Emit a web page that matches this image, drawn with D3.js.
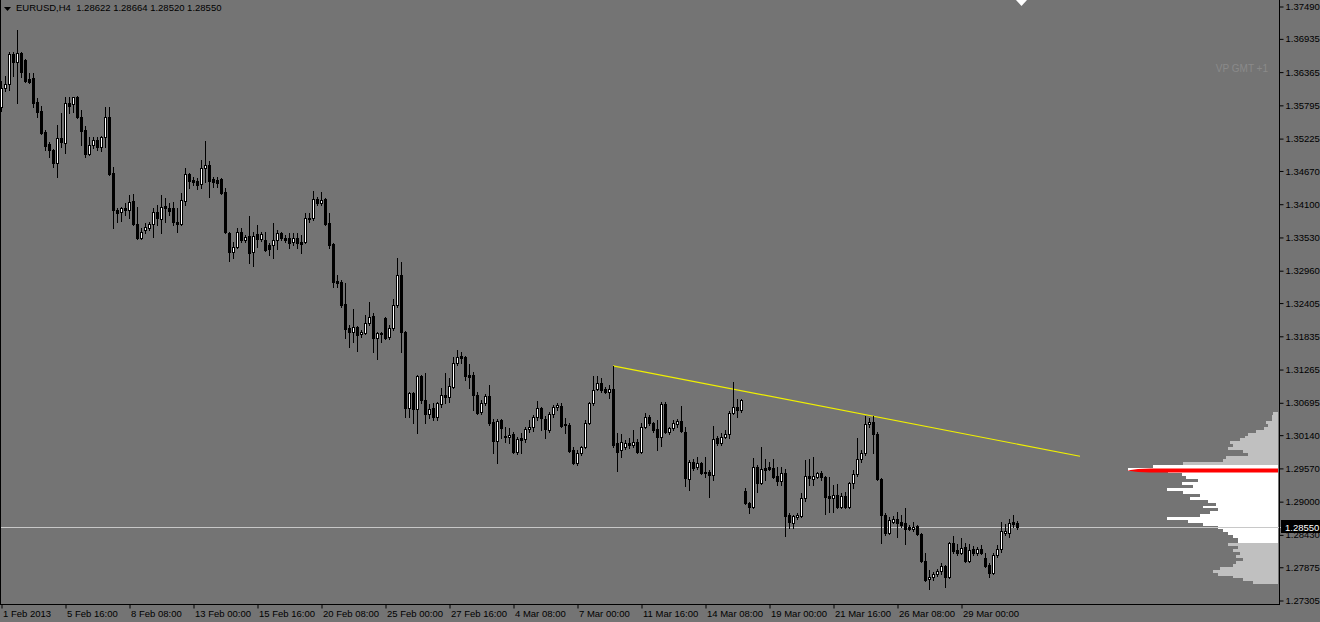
<!DOCTYPE html>
<html><head><meta charset="utf-8">
<script src="https://cdn.jsdelivr.net/npm/d3@7"></script>
<style>
html,body{margin:0;padding:0;background:#747474;overflow:hidden}
svg{display:block}
text{font-family:"Liberation Sans",Arial,sans-serif;font-size:9.5px}
</style>
</head><body>
<svg id="c" width="1320" height="622"></svg>
<script>
// ---- Data: EURUSD H4 candles (bar index 0 = 1 Feb 2013 00:00) ----
const openP = [1.3576,1.3608,1.3615,1.3667,1.3653,1.3668,1.3656,1.3624,1.3626,1.3584,1.3569,1.3533,1.3512,1.3502,1.3480,1.3523,1.3514,1.3583,1.3581,1.3593,
1.3559,1.3536,1.3495,1.3511,1.3519,1.3507,1.3524,1.3559,1.3463,1.3399,1.3396,1.3403,1.3399,1.3415,1.3375,1.3351,1.3365,1.3368,1.3375,1.3396,
1.3384,1.3406,1.3403,1.3403,1.3379,1.3375,1.3415,1.3461,1.3451,1.3449,1.3444,1.3471,1.3476,1.3452,1.3451,1.3452,1.3430,1.3360,1.3327,1.3336,
1.3362,1.3348,1.3355,1.3327,1.3358,1.3350,1.3348,1.3339,1.3339,1.3348,1.3360,1.3351,1.3351,1.3344,1.3351,1.3344,1.3344,1.3386,1.3386,1.3418,
1.3411,1.3418,1.3377,1.3341,1.3277,1.3276,1.3238,1.3197,1.3190,1.3199,1.3187,1.3188,1.3206,1.3218,1.3180,1.3188,1.3214,1.3182,1.3197,1.3236,
1.3288,1.3190,1.3060,1.3086,1.3058,1.3115,1.3074,1.3049,1.3060,1.3044,1.3067,1.3082,1.3079,1.3096,1.3137,1.3149,1.3147,1.3116,1.3116,1.3082,
1.3053,1.3068,1.3080,1.3036,1.3003,1.3039,1.3012,1.3010,1.3015,1.2984,1.3008,1.3007,1.3024,1.3027,1.3044,1.3060,1.3041,1.3022,1.3049,1.3062,
1.3063,1.3032,1.3031,1.2988,1.2966,1.2983,1.2993,1.3034,1.3068,1.3092,1.3103,1.3092,1.3087,1.3092,1.3000,1.2988,1.2993,1.3000,1.2996,1.3002,
1.2984,1.3027,1.3044,1.3034,1.3024,1.3010,1.3067,1.3019,1.3026,1.3032,1.3038,1.3019,1.2938,1.2967,1.2959,1.2966,1.2950,1.2950,1.2945,1.3008,
1.3000,1.3010,1.3015,1.3051,1.3062,1.3056,1.2917,1.2897,1.2890,1.2959,1.2931,1.2957,1.2959,1.2957,1.2943,1.2935,1.2948,1.2876,1.2863,1.2873,
1.2875,1.2905,1.2943,1.2938,1.2941,1.2948,1.2941,1.2909,1.2905,1.2911,1.2890,1.2909,1.2890,1.2931,1.2947,1.2972,1.2983,1.3032,1.3036,1.3015,
1.2938,1.2876,1.2846,1.2864,1.2870,1.2864,1.2863,1.2856,1.2852,1.2857,1.2844,1.2797,1.2767,1.2770,1.2775,1.2780,1.2789,1.2770,1.2828,1.2816,
1.2811,1.2821,1.2797,1.2818,1.2811,1.2818,1.2803,1.2791,1.2777,1.2808,1.2818,1.2846,1.2846,1.2864,1.28622];
const highP = [1.3620,1.3629,1.3670,1.3670,1.3708,1.3670,1.3658,1.3634,1.3634,1.3591,1.3578,1.3536,1.3516,1.3504,1.3545,1.3566,1.3593,1.3593,1.3593,1.3595,
1.3571,1.3543,1.3524,1.3524,1.3524,1.3526,1.3576,1.3576,1.3473,1.3403,1.3404,1.3411,1.3425,1.3427,1.3404,1.3368,1.3377,1.3379,1.3403,1.3408,
1.3425,1.3420,1.3411,1.3413,1.3403,1.3428,1.3471,1.3463,1.3456,1.3454,1.3485,1.3518,1.3483,1.3456,1.3456,1.3454,1.3437,1.3362,1.3344,1.3368,
1.3368,1.3356,1.3389,1.3362,1.3374,1.3362,1.3362,1.3343,1.3377,1.3365,1.3362,1.3356,1.3360,1.3360,1.3360,1.3356,1.3394,1.3394,1.3432,1.3422,
1.3430,1.3420,1.3394,1.3343,1.3288,1.3279,1.3274,1.3202,1.3230,1.3200,1.3194,1.3219,1.3242,1.3223,1.3190,1.3190,1.3216,1.3202,1.3247,1.3317,
1.3310,1.3192,1.3087,1.3087,1.3116,1.3116,1.3120,1.3067,1.3068,1.3070,1.3094,1.3120,1.3111,1.3147,1.3159,1.3156,1.3149,1.3135,1.3122,1.3087,
1.3074,1.3084,1.3099,1.3041,1.3041,1.3041,1.3027,1.3026,1.3019,1.3010,1.3017,1.3027,1.3039,1.3048,1.3072,1.3062,1.3046,1.3053,1.3065,1.3068,
1.3068,1.3043,1.3034,1.2993,1.2988,1.2995,1.3039,1.3070,1.3115,1.3115,1.3111,1.3096,1.3099,1.3132,1.3017,1.3015,1.3005,1.3008,1.3022,1.3007,
1.3034,1.3051,1.3048,1.3036,1.3039,1.3070,1.3070,1.3027,1.3039,1.3041,1.3063,1.3027,1.2971,1.2972,1.2976,1.2967,1.2976,1.2953,1.3029,1.3012,
1.3017,1.3022,1.3055,1.3104,1.3075,1.3075,1.2923,1.2899,1.2974,1.2962,1.2993,1.2972,1.2967,1.2972,1.2959,1.2959,1.2955,1.2880,1.2876,1.2880,
1.2914,1.2971,1.2972,1.2976,1.2950,1.2952,1.2943,1.2941,1.2928,1.2929,1.2914,1.2916,1.2933,1.2953,1.3008,1.2988,1.3046,1.3043,1.3046,1.3019,
1.2940,1.2880,1.2873,1.2875,1.2882,1.2876,1.2888,1.2859,1.2864,1.2859,1.2846,1.2811,1.2782,1.2779,1.2784,1.2794,1.2791,1.2830,1.2840,1.2827,
1.2837,1.2828,1.2827,1.2823,1.2821,1.2825,1.2811,1.2794,1.2811,1.2825,1.2864,1.2861,1.2870,1.2876,1.28664];
const lowP = [1.3569,1.3603,1.3605,1.3629,1.3583,1.3627,1.3619,1.3617,1.3576,1.3559,1.3530,1.3502,1.3490,1.3473,1.3456,1.3507,1.3497,1.3566,1.3567,1.3557,
1.3511,1.3490,1.3494,1.3506,1.3502,1.3500,1.3507,1.3459,1.3368,1.3379,1.3380,1.3391,1.3386,1.3374,1.3350,1.3350,1.3360,1.3365,1.3353,1.3374,
1.3360,1.3379,1.3391,1.3374,1.3362,1.3374,1.3408,1.3437,1.3442,1.3435,1.3437,1.3447,1.3422,1.3439,1.3439,1.3427,1.3360,1.3312,1.3317,1.3334,
1.3344,1.3344,1.3308,1.3303,1.3336,1.3346,1.3329,1.3322,1.3317,1.3332,1.3348,1.3344,1.3334,1.3339,1.3334,1.3326,1.3343,1.3379,1.3382,1.3408,
1.3408,1.3374,1.3334,1.3267,1.3267,1.3233,1.3180,1.3164,1.3173,1.3158,1.3182,1.3187,1.3202,1.3156,1.3144,1.3173,1.3178,1.3178,1.3194,1.3233,
1.3156,1.3044,1.3044,1.3034,1.3017,1.3068,1.3034,1.3043,1.3039,1.3039,1.3062,1.3068,1.3070,1.3094,1.3133,1.3137,1.3108,1.3094,1.3056,1.3049,
1.3049,1.3065,1.3031,1.2983,1.2966,1.3008,1.3002,1.3000,1.2983,1.2981,1.2983,1.3002,1.3019,1.3020,1.3039,1.3022,1.3008,1.3019,1.3044,1.3056,
1.3027,1.3017,1.2984,1.2964,1.2962,1.2979,1.2991,1.3032,1.3065,1.3091,1.3087,1.3086,1.3077,1.2993,1.2952,1.2976,1.2990,1.2991,1.2993,1.2983,
1.2983,1.3026,1.3031,1.3019,1.2988,1.2995,1.3017,1.3015,1.3022,1.3027,1.3019,1.2926,1.2919,1.2953,1.2955,1.2947,1.2941,1.2907,1.2936,1.2996,
1.2996,1.3008,1.3008,1.3049,1.3044,1.3053,1.2895,1.2880,1.2888,1.2916,1.2929,1.2936,1.2953,1.2940,1.2928,1.2928,1.2840,1.2854,1.2854,1.2870,
1.2873,1.2900,1.2928,1.2928,1.2940,1.2936,1.2878,1.2882,1.2882,1.2888,1.2888,1.2888,1.2888,1.2923,1.2943,1.2967,1.2979,1.3027,1.2983,1.2936,
1.2828,1.2842,1.2844,1.2863,1.2839,1.2856,1.2827,1.2851,1.2849,1.2842,1.2796,1.2763,1.2749,1.2765,1.2772,1.2775,1.2753,1.2768,1.2811,1.2808,
1.2809,1.2796,1.2796,1.2808,1.2808,1.2809,1.2787,1.2770,1.2775,1.2804,1.2813,1.2842,1.2839,1.2856,1.28520];
const closeP = [1.3608,1.3615,1.3667,1.3653,1.3668,1.3636,1.3620,1.3619,1.3583,1.3567,1.3531,1.3509,1.3502,1.3480,1.3523,1.3516,1.3583,1.3578,1.3593,1.3559,
1.3535,1.3495,1.3511,1.3519,1.3507,1.3524,1.3559,1.3461,1.3399,1.3394,1.3403,1.3399,1.3413,1.3375,1.3351,1.3362,1.3370,1.3375,1.3396,1.3386,
1.3404,1.3403,1.3398,1.3379,1.3375,1.3416,1.3461,1.3449,1.3447,1.3442,1.3471,1.3476,1.3449,1.3447,1.3446,1.3428,1.3362,1.3327,1.3336,1.3362,
1.3348,1.3353,1.3326,1.3355,1.3350,1.3358,1.3331,1.3332,1.3348,1.3360,1.3351,1.3348,1.3343,1.3351,1.3343,1.3341,1.3386,1.3384,1.3418,1.3411,
1.3416,1.3375,1.3339,1.3276,1.3274,1.3236,1.3195,1.3190,1.3199,1.3185,1.3190,1.3206,1.3216,1.3180,1.3188,1.3187,1.3180,1.3197,1.3236,1.3288,
1.3190,1.3060,1.3086,1.3058,1.3115,1.3074,1.3049,1.3058,1.3044,1.3068,1.3082,1.3079,1.3098,1.3137,1.3147,1.3146,1.3115,1.3113,1.3082,1.3051,
1.3068,1.3080,1.3034,1.3003,1.3038,1.3026,1.3010,1.3013,1.2984,1.3007,1.3005,1.3024,1.3027,1.3044,1.3060,1.3043,1.3024,1.3049,1.3062,1.3065,
1.3029,1.3031,1.2986,1.2966,1.2983,1.2993,1.3034,1.3068,1.3091,1.3103,1.3091,1.3087,1.3092,1.2996,1.2984,1.3002,1.3000,1.2996,1.3002,1.2984,
1.3027,1.3044,1.3034,1.3022,1.3010,1.3067,1.3019,1.3026,1.3034,1.3038,1.3020,1.2940,1.2967,1.2957,1.2966,1.2948,1.2948,1.2945,1.3007,1.3000,
1.3010,1.3015,1.3051,1.3062,1.3056,1.3074,1.2897,1.2890,1.2959,1.2931,1.2955,1.2953,1.2955,1.2941,1.2935,1.2948,1.2875,1.2864,1.2875,1.2876,
1.2905,1.2943,1.2940,1.2943,1.2948,1.2941,1.2907,1.2905,1.2911,1.2890,1.2909,1.2890,1.2931,1.2947,1.2972,1.2983,1.3032,1.3036,1.3015,1.2938,
1.2876,1.2846,1.2868,1.2870,1.2863,1.2859,1.2852,1.2852,1.2856,1.2844,1.2797,1.2765,1.2770,1.2775,1.2780,1.2789,1.2770,1.2828,1.2815,1.2811,
1.2820,1.2797,1.2816,1.2811,1.2818,1.2811,1.2789,1.2777,1.2808,1.2818,1.2849,1.2849,1.2863,1.2861,1.28550];

// price axis tick labels
const priceTicks = [1.37490,1.36935,1.36365,1.35795,1.35225,1.34670,1.34100,1.33530,1.32960,1.32405,1.31835,1.31265,1.30695,1.30140,1.29570,1.29000,1.28430,1.27875,1.27305];
// time axis labels (every 16 bars)
const timeTickBars = [0,16,32,48,64,80,96,112,128,144,160,176,192,208,224,240];
const timeLabels = ["1 Feb 2013","5 Feb 16:00","8 Feb 08:00","13 Feb 00:00","15 Feb 16:00","20 Feb 08:00","25 Feb 00:00","27 Feb 16:00","4 Mar 08:00","7 Mar 00:00","11 Mar 16:00","14 Mar 08:00","19 Mar 00:00","21 Mar 16:00","26 Mar 08:00","29 Mar 00:00"];

// trend line (bar index, price)
const trendBars = [153, 269.75];
const trendPrices = [1.3132, 1.2977];
const bidPrice = 1.28550;
const titleText = "EURUSD,H4  1.28622 1.28664 1.28520 1.28550";

// volume profile (row centre prices, step 0.0005) and volumes
const profilePrices = [1.3050,1.3045,1.3040,1.3035,1.3030,1.3025,1.3020,1.3015,1.3010,1.3005,1.3000,1.2995,1.2990,1.2985,1.2980,1.2975,1.2970,1.2965,1.2960,1.2955,
1.2950,1.2945,1.2940,1.2935,1.2930,1.2925,1.2920,1.2915,1.2910,1.2905,1.2900,1.2895,1.2890,1.2885,1.2880,1.2875,1.2870,1.2865,1.2860,1.2855,
1.2850,1.2845,1.2840,1.2835,1.2830,1.2825,1.2820,1.2815,1.2810,1.2805,1.2800,1.2795,1.2790,1.2785,1.2780,1.2775,1.2770,1.2765,1.2760];
const profileVolumes = [5,6,6,12,10,14,22,30,33,38,48,45,50,35,30,52,55,95,125,150,
110,96,92,80,96,85,111,95,78,88,70,62,75,60,68,78,111,90,75,60,
55,50,45,40,40,50,40,45,38,42,35,42,45,58,65,60,45,35,25];
const pocPrice = 1.2954;
const valueAreaHigh = 1.2962, valueAreaLow = 1.2828;

// ---- Drawing ----
const W = 1320, H = 622;
const plotRight = 1279, plotBottom = 604;
const svg = d3.select("#c");
const x = d3.scaleLinear().domain([0, 254]).range([1, 1017]);
const y = d3.scaleLinear().domain([1.27305, 1.37490]).range([600, 6]);

svg.append("rect").attr("width", W).attr("height", H).attr("fill", "#747474");

// volume profile
const pStep = 0.0005;
const vx = d3.scaleLinear().domain([0, 150]).range([1278, 1128]);
svg.append("g").selectAll("rect").data(profilePrices).join("rect")
  .attr("x", (p, i) => Math.round(vx(profileVolumes[i])))
  .attr("width", (p, i) => 1278 - Math.round(vx(profileVolumes[i])))
  .attr("y", p => Math.round(y(p + pStep / 2)))
  .attr("height", p => Math.round(y(p - pStep / 2)) - Math.round(y(p + pStep / 2)))
  .attr("fill", p => (p <= valueAreaHigh && p >= valueAreaLow) ? "#ffffff" : "#c0c0c0")
  .attr("shape-rendering", "crispEdges");

// POC red line
const pc = Math.round(y(pocPrice)) + 0.5;
svg.append("path")
  .attr("d", `M1127,${pc} L1138,${pc - 1.5} L1150,${pc - 2} L1278,${pc - 2} L1278,${pc + 2} L1150,${pc + 2} L1138,${pc + 1.5} Z`)
  .attr("fill", "#ff0000");

// bid line
const by = Math.round(y(bidPrice)) + 0.5;
svg.append("line").attr("x1", 0).attr("x2", 1283).attr("y1", by).attr("y2", by)
  .attr("stroke", "#c8c8c8").attr("stroke-width", 1);

// trend line
svg.append("line")
  .attr("x1", x(trendBars[0])).attr("y1", y(trendPrices[0]))
  .attr("x2", x(trendBars[1])).attr("y2", y(trendPrices[1]))
  .attr("stroke", "#f0f000").attr("stroke-width", 1.2);

// candles
const cg = svg.append("g").attr("shape-rendering", "crispEdges");
openP.forEach((o, i) => {
  const c = closeP[i], h = highP[i], l = lowP[i];
  const cx = Math.round(x(i));
  cg.append("line").attr("x1", cx + 0.5).attr("x2", cx + 0.5)
    .attr("y1", Math.round(y(h))).attr("y2", Math.round(y(l)) + 1).attr("stroke", "#000");
  const top = Math.round(y(Math.max(o, c))), bot = Math.round(y(Math.min(o, c)));
  if (c > o) {
    cg.append("rect").attr("x", cx - 0.5).attr("y", top + 0.5)
      .attr("width", 2).attr("height", Math.max(bot - top, 1))
      .attr("fill", "#fff").attr("stroke", "#000").attr("stroke-width", 1);
  } else {
    cg.append("rect").attr("x", cx - 1).attr("y", top)
      .attr("width", 3).attr("height", Math.max(bot - top + 1, 1)).attr("fill", "#000");
  }
});

// frame
svg.append("line").attr("x1", 0.5).attr("x2", 0.5).attr("y1", 0).attr("y2", plotBottom).attr("stroke", "#000");
svg.append("line").attr("x1", plotRight + 0.5).attr("x2", plotRight + 0.5).attr("y1", 0).attr("y2", plotBottom + 1).attr("stroke", "#000");
svg.append("line").attr("x1", 0).attr("x2", plotRight + 1).attr("y1", plotBottom + 0.5).attr("y2", plotBottom + 0.5).attr("stroke", "#000");

// price axis
const yAxis = d3.axisRight(y).tickValues(priceTicks).tickSize(4).tickPadding(2).tickFormat(d3.format(".5f"));
const ya = svg.append("g").attr("transform", `translate(${plotRight + 0.5},0.5)`).call(yAxis);
ya.select(".domain").remove();
ya.selectAll("line").attr("stroke", "#000");
ya.selectAll("text").attr("fill", "#000").style("font-size", "9.5px").attr("font-family", "Liberation Sans, Arial, sans-serif");

// time axis
const xAxis = d3.axisBottom(x).tickValues(timeTickBars).tickSize(4).tickFormat((d, i) => timeLabels[i]);
const xa = svg.append("g").attr("transform", `translate(0.5,${plotBottom + 0.5})`).call(xAxis);
xa.select(".domain").remove();
xa.selectAll("line").attr("stroke", "#000");
xa.selectAll("text").attr("fill", "#000").attr("text-anchor", "start").attr("x", 1).attr("y", 6).attr("dy", "0.71em")
  .style("font-size", "9.5px").attr("font-family", "Liberation Sans, Arial, sans-serif");

// bid price box
svg.append("rect").attr("x", 1281).attr("y", by - 7.5).attr("width", 39).attr("height", 13).attr("fill", "#000");
svg.append("text").attr("x", 1285).attr("y", by).attr("dy", "0.35em").attr("fill", "#fff").text(d3.format(".5f")(bidPrice));

// title
svg.append("path").attr("d", "M4,7 L11,7 L7.5,11 Z").attr("fill", "#000");
svg.append("text").attr("x", 16).attr("y", 8).attr("dy", "0.35em").attr("fill", "#000").style("white-space", "pre")
  .attr("xml:space", "preserve").text(titleText);

// indicator label
svg.append("text").attr("x", 1268).attr("y", 68).attr("dy", "0.35em").attr("text-anchor", "end")
  .attr("fill", "#8a8a8a").style("font-size", "10px").text("VP GMT +1");

// chart shift marker
svg.append("path").attr("d", "M1016,0 L1027,0 L1021.5,6 Z").attr("fill", "#fff");
</script>
</body></html>
